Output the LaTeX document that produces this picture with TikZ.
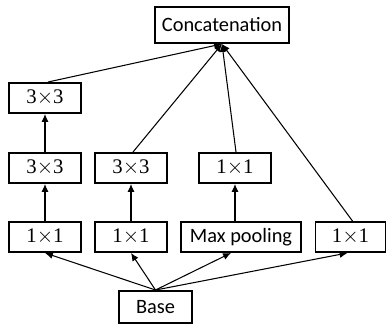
\documentclass[tikz,border=0pt]{standalone}
\usepackage{fontspec}
\setmainfont{Carlito}
\newfontfamily\numfont{Liberation Serif}
\usepackage{tikz}
\usetikzlibrary{arrows.meta, positioning}
\definecolor{mydark}{RGB}{0,0,0}
\tikzset{
  layer/.style={rectangle, draw=mydark, line width=1.1pt, inner sep=0pt,
    minimum width=1.44cm, minimum height=0.60cm,
    font=\fontsize{11.6}{13}\selectfont},
  conv/.style={layer, font=\fontsize{11.8}{14}\selectfont\numfont},
  arrow/.style={-{Latex[length=4.5pt,width=4pt]}, line width=0.6pt, color=mydark}
}

\begin{document}
\begin{tikzpicture}
  \useasboundingbox (0,0) rectangle (7.74,6.48);
  % Output
  \node[layer, minimum width=2.68cm, minimum height=0.72cm] (concat) at (4.44,5.98) {Concatenation};
  % Branch columns
  \node[conv] (a3) at (0.90,4.52) {3$\times$3};
  \node[conv] (a2) at (0.90,3.12) {3$\times$3};
  \node[conv] (b2) at (2.62,3.12) {3$\times$3};
  \node[conv] (c2) at (4.70,3.12) {1$\times$1};
  \node[conv] (a1) at (0.90,1.74) {1$\times$1};
  \node[conv] (b1) at (2.62,1.74) {1$\times$1};
  \node[layer, minimum width=2.40cm] (c1) at (4.82,1.74) {Max pooling};
  \node[conv, minimum width=1.40cm] (d1) at (7.01,1.74) {1$\times$1};
  % Input
  \node[layer, minimum width=1.46cm, minimum height=0.64cm] (base) at (3.11,0.34) {Base};
  % Base to first layers
  \draw[arrow] (base.north) -- (a1.south);
  \draw[arrow] (base.north) -- (b1.south);
  \draw[arrow] (base.north) -- ([xshift=-0.2cm]c1.south);
  \draw[arrow] (base.north) -- ([xshift=-0.06cm]d1.south);
  % Inside branches
  \draw[arrow] (a1) -- (a2);
  \draw[arrow] (a2) -- (a3);
  \draw[arrow] (b1) -- (b2);
  \draw[arrow] (c1.north -| c2) -- (c2);
  % Into concatenation
  \draw[arrow] ([xshift=0.06cm]a3.north) -- (concat.south);
  \draw[arrow] ([xshift=0.04cm]b2.north) -- (concat.south);
  \draw[arrow] ([xshift=0.02cm]c2.north) -- (concat.south);
  \draw[arrow] ([xshift=0.04cm]d1.north) -- (concat.south);
\end{tikzpicture}
\end{document}
